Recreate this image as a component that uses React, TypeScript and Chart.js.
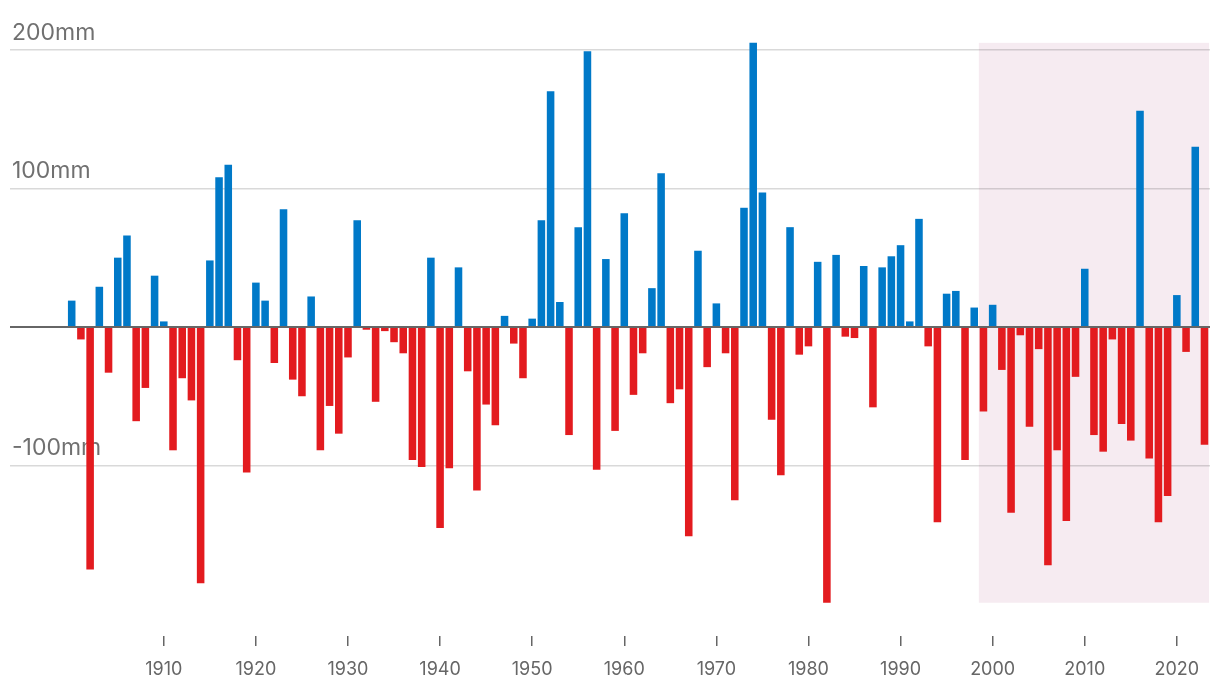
import { useEffect, useRef } from "react";
import { Chart, registerables } from "chart.js";

Chart.register(...registerables);

// Years (categories)
const years: number[] = [
  1900, 1901, 1902, 1903, 1904, 1905, 1906, 1907, 1908, 1909,
  1910, 1911, 1912, 1913, 1914, 1915, 1916, 1917, 1918, 1919,
  1920, 1921, 1922, 1923, 1924, 1925, 1926, 1927, 1928, 1929,
  1930, 1931, 1932, 1933, 1934, 1935, 1936, 1937, 1938, 1939,
  1940, 1941, 1942, 1943, 1944, 1945, 1946, 1947, 1948, 1949,
  1950, 1951, 1952, 1953, 1954, 1955, 1956, 1957, 1958, 1959,
  1960, 1961, 1962, 1963, 1964, 1965, 1966, 1967, 1968, 1969,
  1970, 1971, 1972, 1973, 1974, 1975, 1976, 1977, 1978, 1979,
  1980, 1981, 1982, 1983, 1984, 1985, 1986, 1987, 1988, 1989,
  1990, 1991, 1992, 1993, 1994, 1995, 1996, 1997, 1998, 1999,
  2000, 2001, 2002, 2003, 2004, 2005, 2006, 2007, 2008, 2009,
  2010, 2011, 2012, 2013, 2014, 2015, 2016, 2017, 2018, 2019,
  2020, 2021, 2022, 2023,
];

// Rainfall anomaly (mm) per year
const anomaly: number[] = [
  19, -9, -175, 29, -33, 50, 66, -68, -44, 37,
  4, -89, -37, -53, -185, 48, 108, 117, -24, -105,
  32, 19, -26, 85, -38, -50, 22, -89, -57, -77,
  -22, 77, -2, -54, -3, -11, -19, -96, -101, 50,
  -145, -102, 43, -32, -118, -56, -71, 8, -12, -37,
  6, 77, 170, 18, -78, 72, 199, -103, 49, -75,
  82, -49, -19, 28, 111, -55, -45, -151, 55, -29,
  17, -19, -125, 86, 205, 97, -67, -107, 72, -20,
  -14, 47, -199, 52, -7, -8, 44, -58, 43, 51,
  59, 4, 78, -14, -141, 24, 26, -96, 14, -61,
  16, -31, -134, -6, -72, -16, -172, -89, -140, -36,
  42, -78, -90, -9, -70, -82, 156, -95, -141, -122,
  23, -18, 130, -85,
];

const xTickYears: number[] = [1910, 1920, 1930, 1940, 1950, 1960, 1970, 1980, 1990, 2000, 2010, 2020];
const yTickValues: number[] = [-100, 0, 100, 200];
const highlightYears: number[] = [1999, 2023];

const BLUE = "#0079c8";
const RED = "#e31b1f";
const SHADE = "#f6ebf1";

export default function App() {
  const canvasRef = useRef<HTMLCanvasElement | null>(null);

  useEffect(() => {
    const canvas = canvasRef.current;
    if (!canvas) return;

    const shadePlugin = {
      id: "shade",
      beforeDraw(chart: any) {
        const { ctx, scales } = chart;
        const x = scales.x;
        const y = scales.y;
        const x0 = x.getPixelForValue(highlightYears[0] - 0.5);
        const x1 = x.getPixelForValue(highlightYears[1] + 0.5);
        const y0 = y.getPixelForValue(Math.max(...anomaly));
        const y1 = y.getPixelForValue(Math.min(...anomaly));
        ctx.save();
        ctx.fillStyle = SHADE;
        ctx.fillRect(x0, y0, x1 - x0, y1 - y0);
        ctx.restore();
      },
    };

    const zeroLinePlugin = {
      id: "zeroLine",
      afterDatasetsDraw(chart: any) {
        const { ctx, chartArea, scales } = chart;
        const yz = scales.y.getPixelForValue(0);
        ctx.save();
        ctx.strokeStyle = "#666666";
        ctx.lineWidth = 2;
        ctx.beginPath();
        ctx.moveTo(chartArea.left, yz);
        ctx.lineTo(chartArea.right, yz);
        ctx.stroke();
        ctx.restore();
      },
    };

    const chart = new Chart(canvas, {
      type: "bar",
      data: {
        datasets: [
          {
            data: years.map((yr, i) => ({ x: yr, y: anomaly[i] })),
            backgroundColor: (c: any) => (c.raw && c.raw.y >= 0 ? BLUE : RED),
            borderWidth: 0,
            barPercentage: 0.82,
            categoryPercentage: 1,
          },
        ],
      },
      options: {
        animation: false,
        responsive: false,
        maintainAspectRatio: false,
        layout: { padding: { top: 29, left: 10, right: 10, bottom: 0 } },
        plugins: {
          legend: { display: false },
          tooltip: { enabled: false },
        },
        scales: {
          x: {
            type: "linear",
            offset: false,
            min: 1893.3,
            max: 2023.6,
            afterBuildTicks: (scale: any) => {
              scale.ticks = xTickYears.map((v) => ({ value: v }));
            },
            afterFit: (scale: any) => {
              scale.height = 62;
            },
            grid: {
              offset: false,
              drawOnChartArea: false,
              drawTicks: true,
              tickLength: 10,
              color: "#666666",
              lineWidth: 1.5,
            },
            border: { display: false },
            ticks: {
              padding: 13,
              color: "#666666",
              font: { family: "Inter", size: 18 },
              callback: (v: any) => String(v),
              maxRotation: 0,
              autoSkip: false,
            },
          },
          y: {
            type: "linear",
            min: -223,
            max: 215,
            afterBuildTicks: (scale: any) => {
              scale.ticks = yTickValues.map((v) => ({ value: v }));
            },
            afterFit: (scale: any) => {
              scale.width = 0;
            },
            grid: {
              drawTicks: false,
              color: (c: any) => (c.tick && c.tick.value === 0 ? "rgba(0,0,0,0)" : "rgba(0,0,0,0.15)"),
              lineWidth: 1.6,
            },
            border: { display: false },
            ticks: {
              mirror: true,
              padding: 2,
              labelOffset: -17,
              color: "#707070",
              font: { family: "Inter", size: 23 },
              callback: (v: any) => (v === 0 ? "" : `${v}mm`),
            },
          },
        },
      },
      plugins: [shadePlugin, zeroLinePlugin],
    } as any);

    return () => chart.destroy();
  }, []);

  return (
    <div style={{ position: "fixed", left: 0, top: 0, width: 1220, height: 698, background: "#ffffff" }}>
      <canvas ref={canvasRef} width={1220} height={698} style={{ display: "block" }} />
    </div>
  );
}
